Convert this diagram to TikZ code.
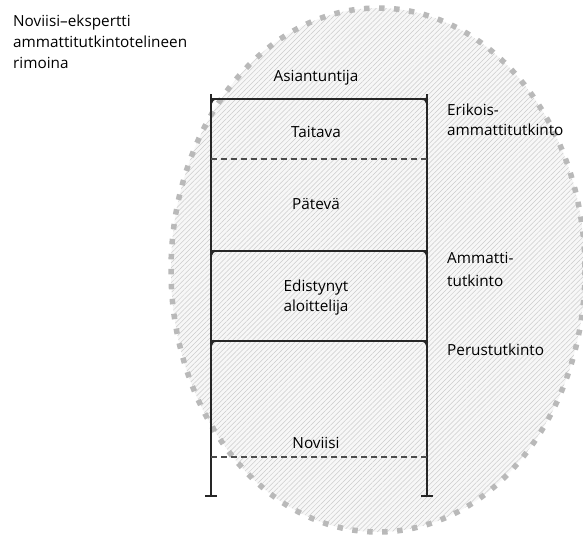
\documentclass[tikz,border=0pt]{standalone}
\usepackage{fontspec}
\setmainfont{Open Sans}
\usetikzlibrary{patterns.meta}
\begin{document}
\begin{tikzpicture}[x=1pt,y=-1pt,
  lbl/.style={font=\fontsize{15.3}{21}\selectfont, text=black, inner sep=0pt},
  frameline/.style={line width=1.6pt, black!85},
  levelline/.style={line width=2.4pt, black!85},
  dashline/.style={line width=1.4pt, black!70, dash pattern=on 6pt off 4pt},
  wedge/.style={fill=black!85}]
\useasboundingbox (0,0) rectangle (583,538);
% ellipse
\fill[gray!6] (378,270) ellipse [x radius=207, y radius=262];
\path[pattern={Lines[angle=45,distance=3.5pt,line width=0.5pt]}, pattern color=gray!40] (378,270) ellipse [x radius=207, y radius=262];
\draw[gray!55, line width=5.5pt, dash pattern=on 5.5pt off 9.5pt] (378,270) ellipse [x radius=207, y radius=262];
% frame
\coordinate (LT) at (211,94);
\coordinate (LB) at (211,496);
\coordinate (RT) at (427,94);
\coordinate (RB) at (427,496);
\draw[frameline] (LT) -- (LB);
\draw[frameline] (RT) -- (RB);
\draw[line width=2.6pt, black!85] (205,496) -- (217,496);
\draw[line width=2.6pt, black!85] (421,496) -- (433,496);
\foreach \y in {99,251,341}{
  \draw[levelline] (211,\y) -- (427,\y);
  \fill[wedge] (211,\y) -- (219,\y) .. controls (213,\y+1) .. (211,\y+8) -- cycle;
  \fill[wedge] (427,\y) -- (419,\y) .. controls (425,\y+1) .. (427,\y+8) -- cycle;
}
\draw[dashline] (211,159) -- (427,159);
\draw[dashline] (211,457) -- (427,457);
% texts (base anchor = baseline of last line)
\node[lbl, anchor=base west, align=left] (title) at (13,68) {Noviisi–ekspertti\\ammattitutkintotelineen\\rimoina};
\node[lbl, anchor=base] (asi) at (316,81) {Asiantuntija};
\node[lbl, anchor=base] (tai) at (316,137) {Taitava};
\node[lbl, anchor=base] (pat) at (316,209) {Pätevä};
\node[lbl, anchor=base, align=center, font=\fontsize{15.3}{20}\selectfont] (edi) at (316,311) {Edistynyt\\aloittelija};
\node[lbl, anchor=base] (nov) at (316,448) {Noviisi};
\node[lbl, anchor=base west, align=left, font=\fontsize{15.3}{20}\selectfont] (eri) at (447,135) {Erikois-\\ammattitutkinto};
\node[lbl, anchor=base west, align=left, font=\fontsize{15.3}{23}\selectfont] (amm) at (447,286) {Ammatti-\\tutkinto};
\node[lbl, anchor=base west] (per) at (447,355) {Perustutkinto};
\end{tikzpicture}
\end{document}
